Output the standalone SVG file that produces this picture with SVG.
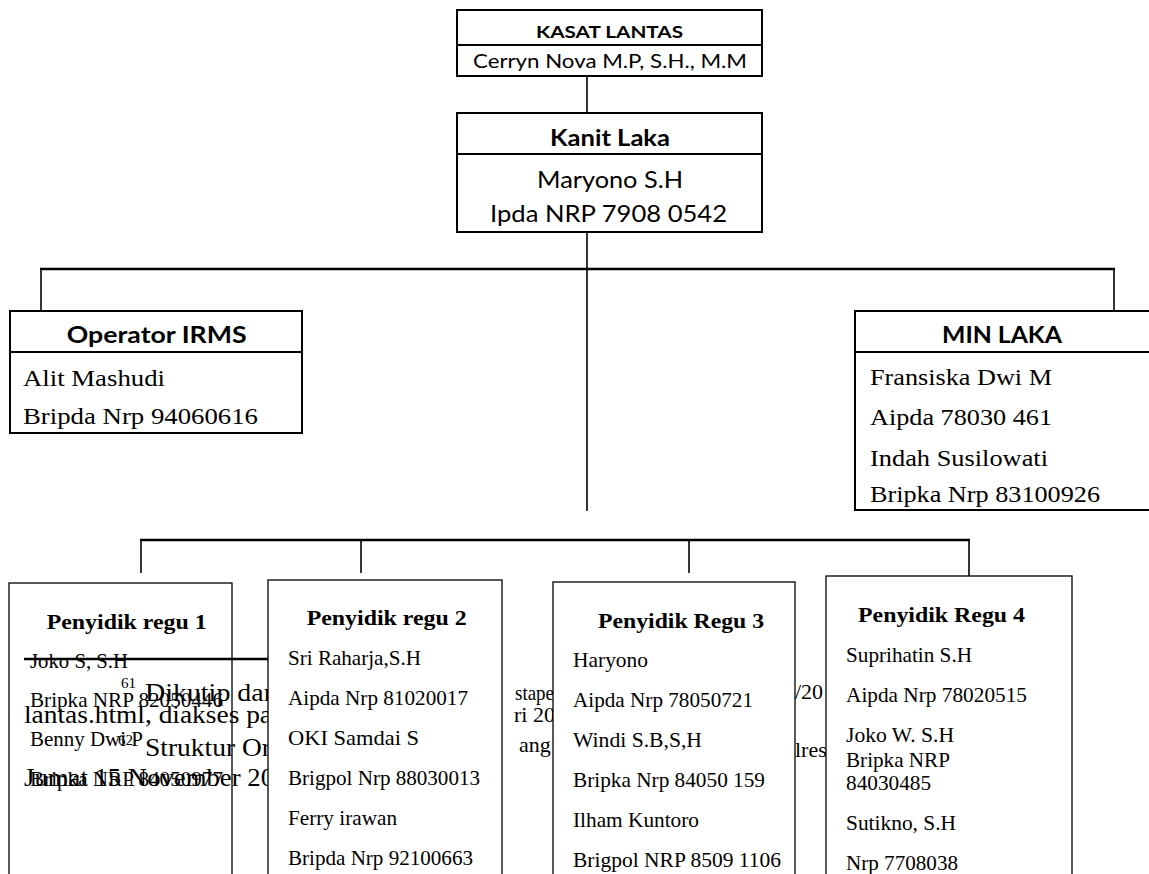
<svg xmlns="http://www.w3.org/2000/svg" width="1149" height="874" viewBox="0 0 1149 874">
<style>
.box{fill:#fff;stroke:#000;stroke-width:2}
.bx{fill:#fff;stroke:#000;stroke-width:1.3}
.dv{stroke:#000;stroke-width:2}
.h{stroke:#000;stroke-width:2.5;fill:none}
.v{stroke:#000;stroke-width:1.6;fill:none}
.cal{font-family:Lato,"Liberation Sans",sans-serif;fill:#000;text-anchor:middle}
.calb{font-family:Lato,"Liberation Sans",sans-serif;font-weight:bold;fill:#000;text-anchor:middle}
.t{font-family:"Liberation Serif","Times New Roman",serif;fill:#000;font-size:21px}
.tm{font-family:"Liberation Serif","Times New Roman",serif;fill:#000;font-size:23px}
.tb{font-family:"Liberation Serif","Times New Roman",serif;fill:#000;font-size:22px;font-weight:bold}
.fn{font-family:"Liberation Serif","Times New Roman",serif;fill:#000;font-size:25px}
.fs{font-family:"Liberation Serif","Times New Roman",serif;fill:#000;font-size:22px}
.sup{font-family:"Liberation Serif","Times New Roman",serif;fill:#000;font-size:15px}
</style>
<rect width="1149" height="874" fill="#fff"/>
<g id="connectors">
<line class="v" x1="587" y1="76" x2="587" y2="113"/>
<line class="v" x1="587" y1="232" x2="587" y2="511"/>
<line class="h" x1="40" y1="269" x2="1115" y2="269"/>
<line class="v" x1="41" y1="269" x2="41" y2="311"/>
<line class="v" x1="1114" y1="269" x2="1114" y2="311"/>
<line class="h" x1="140" y1="540" x2="970" y2="540"/>
<line class="v" x1="141" y1="540" x2="141" y2="573"/>
<line class="v" x1="361" y1="540" x2="361" y2="573"/>
<line class="v" x1="689" y1="540" x2="689" y2="573"/>
<line class="v" x1="969" y1="540" x2="969" y2="576"/>
</g>
<g id="kasat-lantas">
<rect class="box" x="457" y="10" width="305" height="66"/>
<line class="dv" x1="457" y1="45" x2="762" y2="45"/>
<text class="calb" x="609.5" y="38" font-size="17" textLength="147" lengthAdjust="spacingAndGlyphs">KASAT LANTAS</text>
<text class="cal" x="610" y="68" font-size="19" textLength="274" lengthAdjust="spacingAndGlyphs">Cerryn Nova M.P, S.H., M.M</text>
</g>
<g id="kanit-laka">
<rect class="box" x="457" y="113" width="305" height="119"/>
<line class="dv" x1="457" y1="154" x2="762" y2="154"/>
<text class="calb" x="610" y="146" font-size="23" textLength="120" lengthAdjust="spacingAndGlyphs">Kanit Laka</text>
<text class="cal" x="610" y="188" font-size="24" textLength="146" lengthAdjust="spacingAndGlyphs">Maryono S.H</text>
<text class="cal" x="608.5" y="222" font-size="24" textLength="237" lengthAdjust="spacingAndGlyphs">Ipda NRP 7908 0542</text>
</g>
<g id="operator-irms">
<rect class="box" x="10" y="311" width="292" height="122"/>
<line class="dv" x1="10" y1="352" x2="302" y2="352"/>
<text class="calb" x="156.7" y="343" font-size="23" textLength="180" lengthAdjust="spacingAndGlyphs">Operator IRMS</text>
<text class="tm" x="23" y="386" textLength="142" lengthAdjust="spacingAndGlyphs">Alit Mashudi</text>
<text class="tm" x="23" y="424" textLength="235" lengthAdjust="spacingAndGlyphs">Bripda Nrp 94060616</text>
</g>
<g id="min-laka">
<rect class="box" x="855" y="311" width="310" height="199"/>
<line class="dv" x1="855" y1="352" x2="1149" y2="352"/>
<text class="calb" x="1002" y="343" font-size="23" textLength="120" lengthAdjust="spacingAndGlyphs">MIN LAKA</text>
<text class="tm" x="870" y="385" textLength="182" lengthAdjust="spacingAndGlyphs">Fransiska Dwi M</text>
<text class="tm" x="870" y="425" textLength="182" lengthAdjust="spacingAndGlyphs">Aipda 78030 461</text>
<text class="tm" x="870" y="466" textLength="178" lengthAdjust="spacingAndGlyphs">Indah Susilowati</text>
<text class="tm" x="870" y="502" textLength="230" lengthAdjust="spacingAndGlyphs">Bripka Nrp 83100926</text>
</g>
<g id="penyidik-regu-1">
<rect class="bx" x="9" y="583" width="223" height="300"/>
<text class="tb" x="46.7" y="629" textLength="160" lengthAdjust="spacingAndGlyphs">Penyidik regu 1</text>
<text class="t" x="30" y="668" textLength="98" lengthAdjust="spacingAndGlyphs">Joko S, S.H</text>
<text class="t" x="30" y="707" textLength="193" lengthAdjust="spacingAndGlyphs">Bripka NRP 82050446</text>
<text class="t" x="30" y="746" textLength="113" lengthAdjust="spacingAndGlyphs">Benny Dwi P</text>
<text class="t" x="30" y="786" textLength="193" lengthAdjust="spacingAndGlyphs">Bripka NRP 84050977</text>
</g>
<g id="footnote">
<line x1="24" y1="659" x2="268" y2="659" stroke="#000" stroke-width="2.5"/>
<text class="sup" x="121" y="688">61</text>
<text class="fn" x="145" y="701" textLength="128" lengthAdjust="spacingAndGlyphs">Dikutip dar</text>
<text class="fs" x="515" y="700" textLength="39" lengthAdjust="spacingAndGlyphs">stape</text>
<text class="fs" x="795" y="699">/20</text>
<text class="fn" x="24" y="723" textLength="248" lengthAdjust="spacingAndGlyphs">lantas.html, diakses pa</text>
<text class="fs" x="514" y="722">ri 20</text>
<text class="sup" x="118" y="745">62</text>
<text class="fn" x="145" y="756" textLength="126" lengthAdjust="spacingAndGlyphs">Struktur Or</text>
<text class="fs" x="519" y="752">ang</text>
<text class="fs" x="795" y="757">lres</text>
<text class="fn" x="24" y="786" textLength="250" lengthAdjust="spacingAndGlyphs">Jumat 15 November 20</text>
</g>
<g id="penyidik-regu-2">
<rect class="bx" x="268" y="580" width="234" height="300"/>
<text class="tb" x="306.7" y="625" textLength="160" lengthAdjust="spacingAndGlyphs">Penyidik regu 2</text>
<text class="t" x="288" y="665" textLength="133" lengthAdjust="spacingAndGlyphs">Sri Raharja,S.H</text>
<text class="t" x="288" y="705" textLength="180" lengthAdjust="spacingAndGlyphs">Aipda Nrp 81020017</text>
<text class="t" x="288" y="745" textLength="131" lengthAdjust="spacingAndGlyphs">OKI Samdai S</text>
<text class="t" x="288" y="785" textLength="192" lengthAdjust="spacingAndGlyphs">Brigpol Nrp 88030013</text>
<text class="t" x="288" y="825" textLength="109" lengthAdjust="spacingAndGlyphs">Ferry irawan</text>
<text class="t" x="288" y="865" textLength="185" lengthAdjust="spacingAndGlyphs">Bripda Nrp 92100663</text>
</g>
<g id="penyidik-regu-3">
<rect class="bx" x="553" y="582" width="242" height="300"/>
<text class="tb" x="598" y="628" textLength="166" lengthAdjust="spacingAndGlyphs">Penyidik Regu 3</text>
<text class="t" x="573" y="667" textLength="75" lengthAdjust="spacingAndGlyphs">Haryono</text>
<text class="t" x="573" y="707" textLength="180" lengthAdjust="spacingAndGlyphs">Aipda Nrp 78050721</text>
<text class="t" x="573" y="747" textLength="129" lengthAdjust="spacingAndGlyphs">Windi S.B,S,H</text>
<text class="t" x="573" y="787" textLength="192" lengthAdjust="spacingAndGlyphs">Bripka Nrp 84050 159</text>
<text class="t" x="573" y="827" textLength="126" lengthAdjust="spacingAndGlyphs">Ilham Kuntoro</text>
<text class="t" x="573" y="867" textLength="208" lengthAdjust="spacingAndGlyphs">Brigpol NRP 8509 1106</text>
</g>
<g id="penyidik-regu-4">
<rect class="bx" x="826" y="576" width="246" height="305"/>
<text class="tb" x="858" y="622" textLength="167" lengthAdjust="spacingAndGlyphs">Penyidik Regu 4</text>
<text class="t" x="846" y="662" textLength="126" lengthAdjust="spacingAndGlyphs">Suprihatin S.H</text>
<text class="t" x="846" y="702" textLength="181" lengthAdjust="spacingAndGlyphs">Aipda Nrp 78020515</text>
<text class="t" x="846" y="742" textLength="108" lengthAdjust="spacingAndGlyphs">Joko W. S.H</text>
<text class="t" x="846" y="767" textLength="104" lengthAdjust="spacingAndGlyphs">Bripka NRP</text>
<text class="t" x="846" y="790" textLength="85" lengthAdjust="spacingAndGlyphs">84030485</text>
<text class="t" x="846" y="830" textLength="110" lengthAdjust="spacingAndGlyphs">Sutikno, S.H</text>
<text class="t" x="846" y="870" textLength="112" lengthAdjust="spacingAndGlyphs">Nrp 7708038</text>
</g>
</svg>
